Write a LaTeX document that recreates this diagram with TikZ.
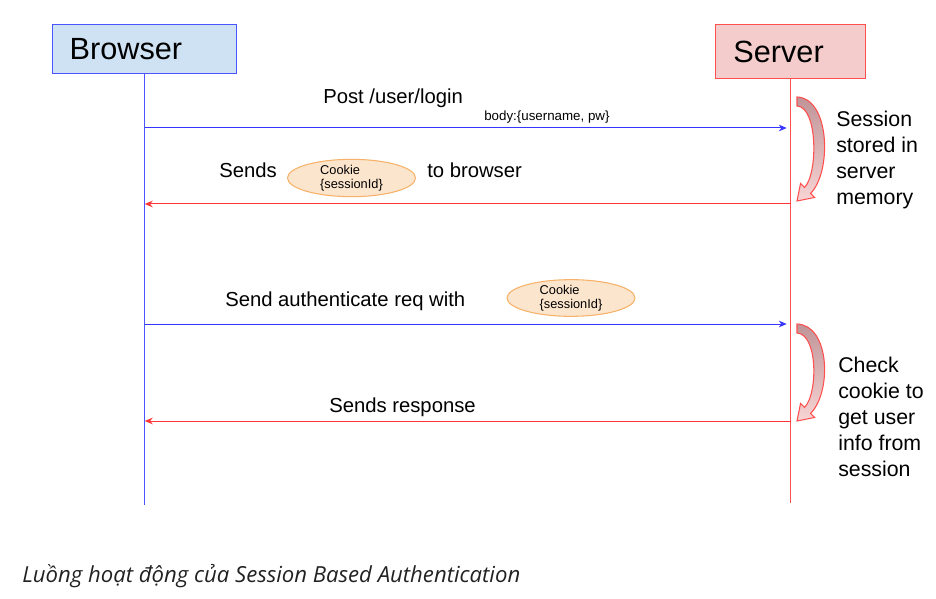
\documentclass[tikz,border=0pt]{standalone}
\usepackage{fontspec}
\setmainfont{Liberation Sans}
\newfontfamily\capfont{Open Sans}
\usetikzlibrary{positioning}
\usetikzlibrary{shapes.geometric}
\usetikzlibrary{arrows.meta}

\definecolor{browserfill}{HTML}{CFE2F3}
\definecolor{browserline}{HTML}{4A55FF}
\definecolor{serverfill}{HTML}{F4CCCC}
\definecolor{serverline}{HTML}{FF4F4F}
\definecolor{msgblue}{HTML}{3535FF}
\definecolor{msgred}{HTML}{FF3535}
\definecolor{cookiefill}{HTML}{FCE5CD}
\definecolor{cookieline}{HTML}{F6B26B}
\definecolor{arctop}{HTML}{BF9498}
\definecolor{arcbot}{HTML}{F8D4D4}
\definecolor{captext}{HTML}{222222}

\tikzset{
  actor/.style={draw, line width=1.1pt, font=\fontsize{23}{27}\selectfont,
    align=left, inner ysep=0pt, anchor=north west},
  msg/.style={line width=0.75pt, -{Stealth[length=6pt,width=5pt]}},
  lbl/.style={font=\fontsize{15.2}{18}\selectfont, inner sep=0pt, anchor=base west},
  small/.style={font=\fontsize{10}{12}\selectfont, inner sep=0pt, anchor=base west},
  cookie/.style={ellipse, draw=cookieline, fill=cookiefill, line width=0.8pt,
    minimum width=96pt, inner sep=0pt, align=left,
    font=\fontsize{9.6}{10.5}\selectfont},
  note/.style={font=\fontsize{16}{19.5}\selectfont, align=left,
    anchor=north west, inner sep=0pt},
}

\newcommand{\fatarc}[2]{%
  \begin{scope}[shift={#1}]
    \shade[draw=serverline, line width=0.8pt, top color=arctop, bottom color=arcbot]
      (0,0) .. controls (33,1) and (35,#2-29) .. (13.5,#2-7.5)
      -- (17.5,#2-3.5) -- (0,#2) -- (3.5,#2-17.5) -- (7.5,#2-13.5)
      .. controls (21,#2-27) and (21,10) .. (0,9) -- cycle;
  \end{scope}}

\begin{document}
\begin{tikzpicture}[x=0.75pt,y=-0.75pt]
  \useasboundingbox (0,0) rectangle (936,599);

  \node[actor, fill=browserfill, draw=browserline, minimum width=138pt,
    minimum height=36.5pt, text width=112.5pt, inner xsep=12.75pt]
    (browser) at (52,24) {Browser};
  \node[actor, fill=serverfill, draw=serverline, minimum width=112.5pt,
    minimum height=40.5pt, text width=86pt, inner xsep=13.25pt]
    (server) at (715,24) {Server};

  \coordinate (bend) at (browser.south |- 0,505);
  \coordinate (send) at (server.south |- 0,503);
  \draw[browserline, line width=0.8pt] (browser.south) -- (bend);
  \draw[serverline, line width=0.8pt] (server.south) -- (send);

  \coordinate (b1) at (browser.south |- 0,128);
  \coordinate (s1) at (server.south |- 0,128);
  \coordinate (b2) at (browser.south |- 0,204);
  \coordinate (s2) at (server.south |- 0,204);
  \coordinate (b3) at (browser.south |- 0,324);
  \coordinate (s3) at (server.south |- 0,324);
  \coordinate (b4) at (browser.south |- 0,421);
  \coordinate (s4) at (server.south |- 0,421);

  \draw[msg, msgblue] (b1) -- ([xshift=-3pt]s1);
  \draw[msg, msgred] (s2) -- (b2);
  \draw[msg, msgblue] (b3) -- ([xshift=-3pt]s3);
  \draw[msg, msgred] (s4) -- (b4);

  \node[lbl] (post) at (323,104) {Post /user/login};
  \node[small] (body) at (484,121) {body:\{username, pw\}};

  \node[lbl] (sends) at (219,178) {Sends};
  \node[cookie, minimum height=28pt] (cookie1) at (351.5,178) {Cookie\\\{sessionId\}};
  \node[lbl] (tobrowser) at (427,178) {to browser};

  \node[lbl] (authreq) at (225,306) {Send authenticate req with};
  \node[cookie, minimum height=25pt] (cookie2) at (571,298) {Cookie\\\{sessionId\}};

  \node[lbl] (response) at (329,412) {Sends response};

  \fatarc{(797,97)}{104}
  \fatarc{(797,324)}{97}

  \node[note] (stored) at (836,111) {Session\\stored in\\server\\memory};
  \node[note] (check) at (838,357) {Check\\cookie to\\get user\\info from\\session};

  \node[font=\capfont\itshape\fontsize{16.6}{20}\selectfont, text=captext,
    inner sep=0pt, anchor=base west] (caption) at (22,582)
    {Luồng hoạt động của Session Based Authentication};
\end{tikzpicture}
\end{document}
